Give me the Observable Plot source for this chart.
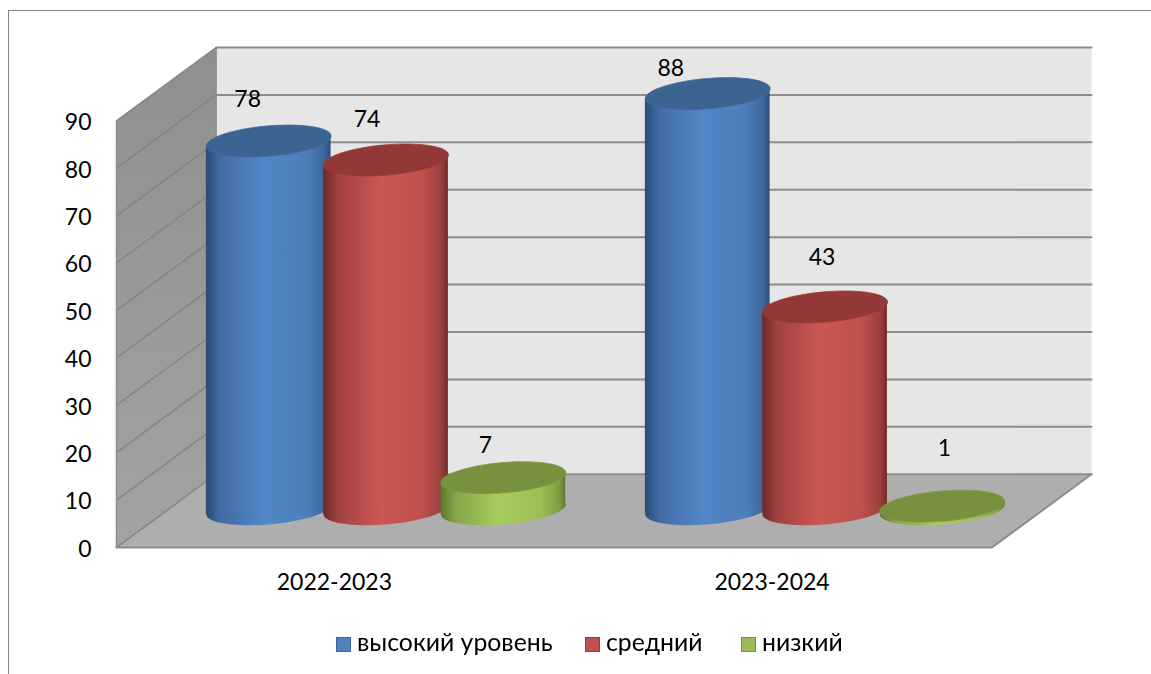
<!DOCTYPE html>
<html>
<head>
<meta charset="utf-8">
<script src="https://cdn.jsdelivr.net/npm/d3@7"></script>
<script src="https://cdn.jsdelivr.net/npm/@observablehq/plot@0.6"></script>
<style>
  html, body { margin: 0; padding: 0; background: #fff; overflow: hidden; }
  body { font-family: Lato, "Noto Sans", sans-serif; color: #000; }
  #frame { position: fixed; left: 8px; top: 10px; right: -4px; bottom: -4px; border: 1.5px solid #868686; pointer-events: none; }
  #chart svg { display: block; }
  #legend { position: relative; height: 54px; font-size: 24.8px; line-height: 43px; }
  #legend span.item { position: absolute; top: 0; white-space: nowrap; }
  #legend i { display: inline-block; width: 13px; height: 13px; border: 1.5px solid; margin-right: 6px; vertical-align: -1px; }
</style>
</head>
<body>
<div id="frame"></div>
<div id="chart"></div>
<div id="legend"></div>
<script>
// Data
const periods = ["2022-2023", "2023-2024"];
const seriesNames = ["высокий уровень", "средний", "низкий"];
const high = [78, 88];
const middle = [74, 43];
const low = [7, 1];
const yTicks = [0, 10, 20, 30, 40, 50, 60, 70, 80, 90];

// Oblique projection of the 3D box, in scale units
const depthX = 0.2275, depthY = 15.45, yMax = 90;
const spread = 0.268, halfBar = 0.1425, tilt = 1.05, groupStep = 1.003, groupShift = 0.002, baseLift = 0.35;

const looks = [
  {id: "gradHigh", edge: "#2a4c78", mid: "#5386c8", edge2: "#2c4e7a", top: "#3c6491", sw: "#4f81bd", swb: "#3a679c"},
  {id: "gradMiddle", edge: "#6c2928", mid: "#cc5653", edge2: "#702b2a", top: "#923837", sw: "#c0504d", swb: "#953b39"},
  {id: "gradLow", edge: "#5c772e", mid: "#a7cb5d", edge2: "#5e7930", top: "#77913f", sw: "#9bbb59", swb: "#76923c"}
];
const values = [high, middle, low];
// Hand placement of the value labels relative to each cylinder top: [dx, dy]
const nudges = [
  [[-21, -41], [-37, -25]],
  [[-19, -40], [-3, -49]],
  [[-18, -32], [2, -58]]
];

const bars = values.flatMap((vals, s) => vals.map((v, c) => ({
  s, c, v,
  x: c * groupStep + groupShift + 0.5 + depthX / 2 + (s - 1) * spread,
  base: depthY / 2 + baseLift,
  top: depthY / 2 + v
})));
const sideOf = b => [
  {b, x: b.x - halfBar, y1: b.base - tilt, y2: b.top - tilt},
  {b, x: b.x + halfBar, y1: b.base + tilt, y2: b.top + tilt}
];

// Tilted ellipse: a circle through a shear, drawn as four bezier arcs
const k = 0.5523;
const disc = {
  draw(ctx, size) {
    const r = Math.sqrt(size / Math.PI);
    const P = (u, v) => [r * u, r * (-0.08 * u + 0.243 * v)];
    ctx.moveTo(...P(1, 0));
    ctx.bezierCurveTo(...P(1, k), ...P(k, 1), ...P(0, 1));
    ctx.bezierCurveTo(...P(-k, 1), ...P(-1, k), ...P(-1, 0));
    ctx.bezierCurveTo(...P(-1, -k), ...P(-k, -1), ...P(0, -1));
    ctx.bezierCurveTo(...P(k, -1), ...P(1, -k), ...P(1, 0));
    ctx.closePath();
  }
};

const defs = () => {
  const d = d3.create("svg:defs");
  looks.forEach(l => {
    const g = d.append("linearGradient").attr("id", l.id).attr("x1", 0).attr("x2", 1).attr("y1", 0).attr("y2", 0);
    [[0, l.edge],
     [0.12, d3.interpolateRgb(l.edge, l.mid)(0.55)],
     [0.46, l.mid],
     [0.8, d3.interpolateRgb(l.edge2, l.mid)(0.85)],
     [0.95, d3.interpolateRgb(l.edge2, l.mid)(0.45)],
     [1, l.edge2]]
      .forEach(([o, c]) => g.append("stop").attr("offset", o).attr("stop-color", c));
  });
  const w = d.append("linearGradient").attr("id", "wallGrad").attr("x1", 0).attr("x2", 0).attr("y1", 0).attr("y2", 1);
  w.append("stop").attr("offset", 0).attr("stop-color", "#8f8f8f");
  w.append("stop").attr("offset", 1).attr("stop-color", "#a3a3a3");
  return d.node();
};

const X = d => d.x, Y = d => d.y;
const right = periods.length;

const wallSide = [{x: 0, y: 0}, {x: depthX, y: depthY}, {x: depthX, y: yMax + depthY}, {x: 0, y: yMax}];
const wallBack = [{x: depthX, y: depthY}, {x: right + depthX, y: depthY}, {x: right + depthX, y: yMax + depthY}, {x: depthX, y: yMax + depthY}];
const floor = [{x: 0, y: 0}, {x: depthX, y: depthY}, {x: right + depthX, y: depthY}, {x: right, y: 0}];
const sideLines = yTicks.flatMap(v => [{v, x: 0, y: v}, {v, x: depthX, y: v + depthY}]);
const backLines = yTicks.flatMap(v => [{v, x: depthX, y: v + depthY}, {v, x: right + depthX, y: v + depthY}]);

const cylinderMarks = looks.flatMap((l, s) => {
  const own = bars.filter(b => b.s === s);
  return [
    Plot.dot(own, {x: "x", y: "base", r: 62.5, symbol: disc, fill: `url(#${l.id})`}),
    Plot.areaY(own.flatMap(sideOf), {x: "x", y1: "y1", y2: "y2", z: d => d.b.c, fill: `url(#${l.id})`}),
    Plot.dot(own, {x: "x", y: "top", r: 62.5, symbol: disc, fill: l.top, stroke: d3.color(l.top).brighter(0.15).formatHex(), strokeWidth: 0.8})
  ];
});

const labelMarks = bars.map(b => Plot.text([b], {
  x: "x", y: "top", text: d => String(d.v),
  dx: nudges[b.s][b.c][0], dy: nudges[b.s][b.c][1],
  fontSize: 23, fill: "#000"
}));

const chart = Plot.plot({
  width: 1151,
  height: 620,
  marginLeft: 116,
  marginRight: 60,
  marginTop: 47,
  marginBottom: 73,
  style: {fontFamily: 'Lato, "Noto Sans", sans-serif', background: "transparent", color: "#000", overflow: "visible"},
  x: {domain: [0, right + depthX], axis: null},
  y: {domain: [0, yMax + depthY], axis: null},
  marks: [
    defs,
    Plot.line(wallBack, {x: X, y: Y, curve: "linear-closed", fill: "#e6e6e6", stroke: "none"}),
    Plot.line(wallSide, {x: X, y: Y, curve: "linear-closed", fill: "url(#wallGrad)", stroke: "none"}),
    Plot.line(floor, {x: X, y: Y, curve: "linear-closed", fill: "#aeaeae", stroke: "none"}),
    Plot.line(sideLines, {x: X, y: Y, z: "v", stroke: "#848484", strokeWidth: 1.5}),
    Plot.line(backLines, {x: X, y: Y, z: "v", stroke: "#8c8c8c", strokeWidth: 2}),
    Plot.ruleX([0, depthX], {y1: d => d === 0 ? 0 : depthY, y2: d => d === 0 ? yMax : yMax + depthY, stroke: "#8c8c8c", strokeWidth: 1.5}),
    Plot.line([{x: 0, y: 0}, {x: right, y: 0}, {x: right + depthX, y: depthY}], {x: X, y: Y, stroke: "#8c8c8c", strokeWidth: 2}),
    ...cylinderMarks,
    ...labelMarks,
    Plot.axisY({ticks: yTicks, anchor: "left", tickSize: 0, tickPadding: 25, fontSize: 23, label: null, dy: 2, tickFormat: d => String(d)}),
    Plot.axisX({ticks: periods.map((p, i) => i + 0.5), anchor: "bottom", tickSize: 0, tickPadding: 26, fontSize: 23, label: null, dx: -1, tickFormat: d => periods[Math.floor(d)]})
  ]
});
document.getElementById("chart").append(chart);

// Legend below the SVG
const legendLeft = [336, 585, 741];
const legend = d3.select("#legend");
seriesNames.forEach((name, i) => {
  const item = legend.append("span").attr("class", "item").style("left", legendLeft[i] + "px");
  item.append("i").style("background", looks[i].sw).style("border-color", looks[i].swb);
  item.append("span").text(name);
});
</script>
</body>
</html>
